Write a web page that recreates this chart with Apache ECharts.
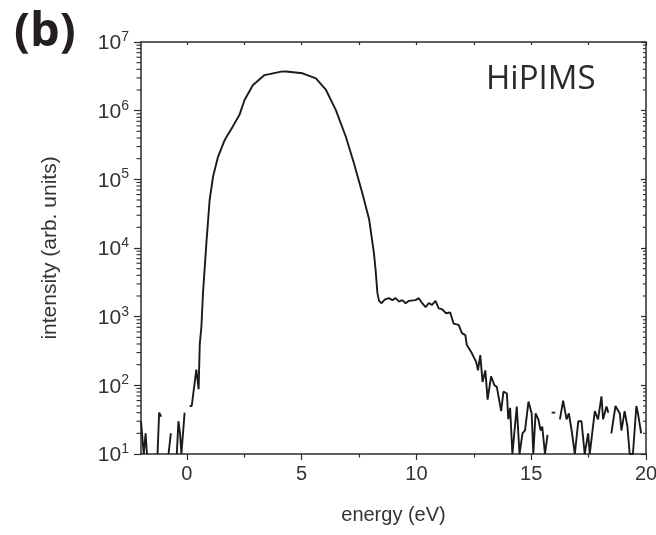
<!DOCTYPE html>
<html>
<head>
<meta charset="utf-8">
<script src="https://cdn.jsdelivr.net/npm/echarts@6/dist/echarts.min.js"></script>
<style>
html,body{margin:0;padding:0;background:#fff;}
#chart{width:656px;height:535px;}
</style>
</head>
<body>
<div id="chart"></div>
<script>
// ---- data ----
const energy = [
  -2.00,-1.95,-1.88,-1.80,-1.74,-1.60,-1.28,-1.21,-1.12,-1.00,-0.80,-0.70,-0.60,
  -0.44,-0.37,-0.30,-0.24,-0.10,0.00,
  0.12,0.21,0.41,0.51,0.56,0.63,0.70,0.85,0.99,1.14,1.35,1.64,2.00,2.29,2.51,2.87,
  3.38,3.60,4.10,4.32,5.04,5.62,6.06,6.49,6.92,7.28,7.64,7.94,8.15,8.22,8.30,8.37,
  8.48,8.63,8.80,8.95,9.09,9.24,9.38,9.53,9.67,9.96,10.10,10.25,10.40,10.54,10.68,
  10.83,10.97,11.11,11.29,11.47,11.62,11.84,11.98,12.13,12.19,12.41,12.60,12.68,
  12.78,12.88,13.00,13.10,13.25,13.40,13.50,13.57,13.69,13.79,13.94,14.00,14.08,
  14.18,14.37,14.49,14.62,14.73,14.88,15.02,15.09,15.19,15.31,15.41,15.48,15.60,
  15.71,15.80,15.89,16.05,16.15,16.25,16.39,16.54,16.64,16.76,16.90,17.05,17.19,
  17.33,17.48,17.55,17.77,17.91,18.06,18.13,18.28,18.36,18.42,18.49,18.67,18.86,
  18.93,19.07,19.19,19.29,19.43,19.58,19.65,19.79
];
const intensity = [
  30,30,10,20,10,null,10,40,35,null,10,20,null,
  10,30,20,10,40,null,
  50,50,170,88,400,700,2200,12000,50000,110000,210000,370000,590000,870000,1430000,2350000,
  3300000,3400000,3700000,3720000,3500000,2950000,2000000,1020000,420000,170000,63000,26000,8300,4800,2200,1700,
  1570,1780,1860,1740,1860,1660,1740,1570,1700,1740,1860,1570,1380,1580,1480,
  1700,1320,1290,1120,1150,790,760,575,540,390,295,220,165,
  275,112,165,62,135,100,95,100,42,81,76,32,47,
  10,49,10,20,22,58,39,10,39,32,22,25,10,
  19,null,40,40,null,32,60,32,39,22,10,30,30,
  10,20,10,42,32,69,32,49,40,null,20,50,39,
  22,42,25,10,10,50,39,20
];
const xMin = -2, xMax = 20;
const yMin = 10, yMax = 1e7;
const xLabelValues = [0, 5, 10, 15, 20];
const xMinorTickValues = [2.5, 7.5, 12.5, 17.5];
const xTopTickValues = [0, 2.5, 5, 7.5, 10, 12.5, 15, 17.5, 20];
const yDecades = [10, 100, 1000, 10000, 100000, 1000000];
const yMinorMultipliers = [2, 3, 4, 5, 6, 7, 8, 9];
const yTickExponents = {10:'1', 100:'2', 1000:'3', 10000:'4', 100000:'5', 1000000:'6', 10000000:'7'};

const lineData = energy.map((e, i) => [e, intensity[i]]);
const yMinorValues = [];
yDecades.forEach(d => yMinorMultipliers.forEach(m => yMinorValues.push([xMin, d * m])));

const AX = '#2b2b2b';
const TXT = '#333333';
const FONT = 'Liberation Sans, Arial, sans-serif';

const chart = echarts.init(document.getElementById('chart'), null, {renderer: 'canvas'});
chart.setOption({
  animation: false,
  backgroundColor: '#ffffff',
  grid: {left: 141, right: 10, top: 42, bottom: 81, outerBoundsMode: 'none', containLabel: false},
  xAxis: [
    {
      type: 'value', position: 'bottom', min: xMin, max: xMax,
      axisLine: {show: true, onZero: false, lineStyle: {color: AX, width: 1.5}},
      axisTick: {show: true, inside: false, length: 6, customValues: xLabelValues, lineStyle: {color: AX, width: 1.2}},
      axisLabel: {show: true, customValues: xLabelValues, margin: 10, color: TXT, fontSize: 20, fontFamily: FONT, hideOverlap: false},
      splitLine: {show: false},
      name: 'energy (eV)', nameLocation: 'middle', nameGap: 51,
      nameTextStyle: {color: TXT, fontSize: 20, fontFamily: FONT}
    },
    {
      type: 'value', position: 'bottom', min: xMin, max: xMax,
      axisLine: {show: false, onZero: false},
      axisTick: {show: true, inside: false, length: 3.5, customValues: xMinorTickValues, lineStyle: {color: AX, width: 1.2}},
      axisLabel: {show: false}, splitLine: {show: false}
    },
    {
      type: 'value', position: 'top', min: xMin, max: xMax,
      axisLine: {show: true, onZero: false, lineStyle: {color: AX, width: 1.5}},
      axisTick: {show: true, inside: true, length: 3, customValues: xTopTickValues, lineStyle: {color: AX, width: 1.2}},
      axisLabel: {show: false}, splitLine: {show: false}
    }
  ],
  yAxis: [
    {
      type: 'log', logBase: 10, position: 'left', min: yMin, max: yMax,
      axisLine: {show: true, onZero: false, lineStyle: {color: AX, width: 1.5}},
      axisTick: {show: true, inside: false, length: 7, lineStyle: {color: AX, width: 1.2}},
      axisLabel: {
        show: true, margin: 12, color: TXT, fontFamily: FONT,
        formatter: v => '{b|10}{s|' + yTickExponents[Math.round(v)] + '}',
        rich: {
          b: {fontSize: 21, lineHeight: 24, color: TXT, fontFamily: FONT, verticalAlign: 'bottom'},
          s: {fontSize: 14, lineHeight: 14, color: TXT, fontFamily: FONT, verticalAlign: 'top'}
        }
      },
      splitLine: {show: false},
      name: 'intensity (arb. units)', nameLocation: 'middle', nameGap: 80,
      nameTextStyle: {color: TXT, fontSize: 21, fontFamily: FONT}
    },
    {
      type: 'log', logBase: 10, position: 'right', min: yMin, max: yMax,
      axisLine: {show: true, onZero: false, lineStyle: {color: AX, width: 1.5}},
      axisTick: {show: true, inside: true, length: 5, lineStyle: {color: AX, width: 1.2}},
      axisLabel: {show: false}, splitLine: {show: false}
    }
  ],
  graphic: [
    {type: 'text', left: 14, top: 9, style: {text: '(b)', font: 'bold 47px "Open Sans", sans-serif', fill: '#231f20'}},
    {type: 'text', left: 486, top: 63, style: {text: 'HiPIMS', font: '33px "Open Sans", sans-serif', fill: '#2a2a2a'}}
  ],
  series: [
    {
      type: 'line', xAxisIndex: 0, yAxisIndex: 0, data: lineData,
      showSymbol: false, symbol: 'none', connectNulls: false, clip: true,
      lineStyle: {color: '#1a1a1a', width: 1.9}, silent: true
    },
    {
      type: 'custom', xAxisIndex: 0, yAxisIndex: 0, data: yMinorValues, clip: false, silent: true,
      encode: {x: 0, y: 1},
      renderItem: (params, api) => {
        const v = api.value(1);
        const pL = api.coord([xMin, v]);
        const pR = api.coord([xMax, v]);
        return {
          type: 'group',
          children: [
            {type: 'line', shape: {x1: pL[0] - 4.5, y1: pL[1], x2: pL[0], y2: pL[1]}, style: {stroke: AX, lineWidth: 1.1}},
            {type: 'line', shape: {x1: pR[0] - 3, y1: pR[1], x2: pR[0], y2: pR[1]}, style: {stroke: AX, lineWidth: 1.1}}
          ]
        };
      }
    }
  ]
});
</script>
</body>
</html>
